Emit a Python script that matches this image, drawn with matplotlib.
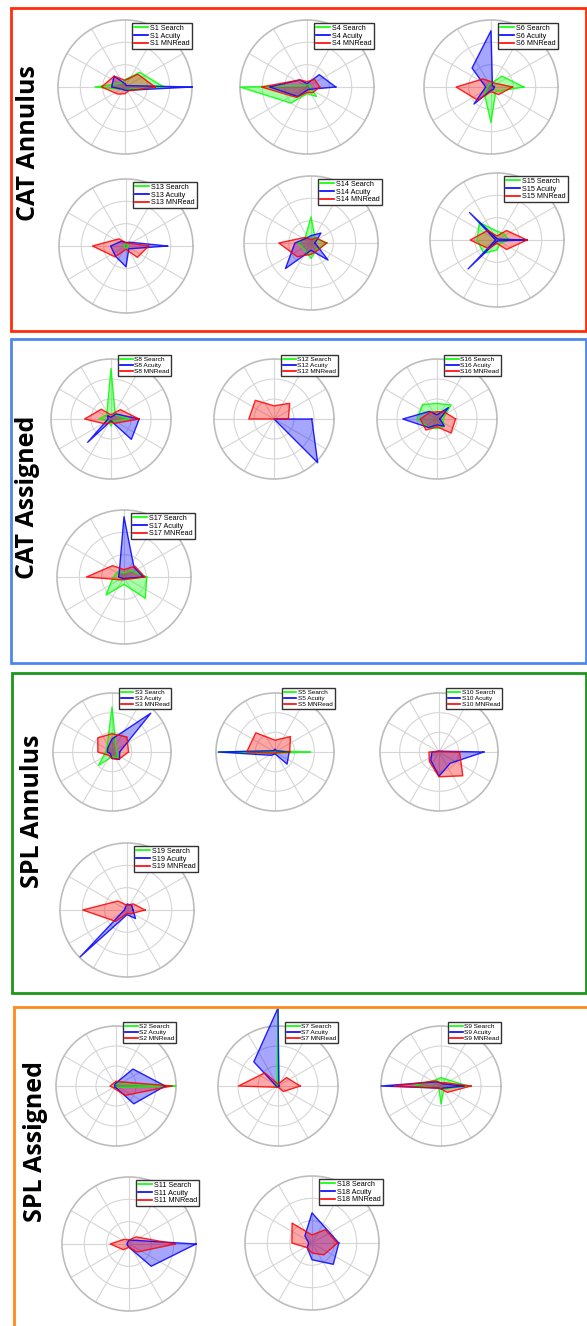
import numpy as np
import matplotlib.pyplot as plt
from matplotlib.lines import Line2D
from matplotlib.patches import Rectangle

# values per subject, 8 directions (0,45,...,315 deg), 1 = outer ring
search = {
    'S1': [0.58, 0.31, 0.11, 0.08, 0.45, 0.05, 0.05, 0.05],
    'S4': [0.05, 0.05, 0.05, 0.03, 1.0, 0.34, 0.1, 0.2],
    'S6': [0.49, 0.23, 0.05, 0.05, 0.05, 0.14, 0.53, 0.1],
    'S13': [0.03, 0.03, 0.03, 0.03, 0.03, 0.03, 0.03, 0.03],
    'S14': [0.24, 0.09, 0.39, 0.12, 0.19, 0.14, 0.23, 0.13],
    'S15': [0.18, 0.14, 0.13, 0.37, 0.3, 0.28, 0.15, 0.07],
    'S8': [0.29, 0.1, 0.84, 0.1, 0.2, 0.05, 0.12, 0.05],
    'S12': [0, 0, 0, 0, 0, 0, 0, 0],
    'S16': [0.1, 0.33, 0.26, 0.34, 0.33, 0.2, 0.16, 0.17],
    'S17': [0.34, 0.14, 0.06, 0.12, 0.16, 0.38, 0.11, 0.45],
    'S3': [0.08, 0.1, 0.76, 0.12, 0.11, 0.32, 0.08, 0.15],
    'S5': [0.6, 0.03, 0.03, 0.03, 0.96, 0.03, 0.03, 0.03],
    'S10': [0, 0, 0, 0, 0, 0, 0, 0],
    'S19': [0, 0, 0, 0, 0, 0, 0, 0],
    'S2': [0.99, 0.05, 0.03, 0.03, 0.03, 0.03, 0.03, 0.03],
    'S7': [0.02, 0.02, 1.3, 0.02, 0.07, 0.02, 0.02, 0.02],
    'S9': [0.45, 0.15, 0.14, 0.14, 0.45, 0.05, 0.3, 0.07],
    'S11': [0, 0, 0, 0, 0, 0, 0, 0],
    'S18': [0, 0, 0, 0, 0, 0, 0, 0],
}
acuity = {
    'S1': [1.0, 0.03, 0.05, 0.23, 0.2, 0.05, 0.05, 0.07],
    'S4': [0.43, 0.26, 0.05, 0.15, 0.56, 0.2, 0.05, 0.05],
    'S6': [0.05, 0.03, 0.84, 0.4, 0.08, 0.36, 0.05, 0.05],
    'S13': [0.62, 0.08, 0.05, 0.1, 0.23, 0.22, 0.31, 0.06],
    'S14': [0.06, 0.21, 0.11, 0.1, 0.24, 0.54, 0.11, 0.36],
    'S15': [0.45, 0.02, 0.02, 0.58, 0.02, 0.61, 0.02, 0.02],
    'S8': [0.47, 0.12, 0.03, 0.08, 0.05, 0.55, 0.03, 0.48],
    'S12': [0.63, 0, 0, 0, 0, 0, 0, 1.03],
    'S16': [0.05, 0.27, 0.07, 0.18, 0.57, 0.2, 0.1, 0.17],
    'S17': [0.29, 0.21, 0.9, 0.1, 0.08, 0.03, 0.03, 0.03],
    'S3': [0.13, 0.93, 0.22, 0.1, 0.08, 0.04, 0.11, 0.18],
    'S5': [0.24, 0.03, 0.05, 0.03, 0.96, 0.08, 0.03, 0.29],
    'S10': [0.76, 0.02, 0.02, 0.02, 0.12, 0.2, 0.41, 0.27],
    'S19': [0.09, 0.1, 0.09, 0.04, 0.04, 0.99, 0.07, 0.18],
    'S2': [0.82, 0.4, 0.05, 0.03, 0.02, 0.03, 0.03, 0.42],
    'S7': [0.02, 0.02, 1.3, 0.57, 0.03, 0.02, 0.02, 0.02],
    'S9': [0.38, 0.05, 0.05, 0.1, 1.0, 0.05, 0.05, 0.05],
    'S11': [1.0, 0.08, 0.06, 0.03, 0.03, 0.03, 0.05, 0.47],
    'S18': [0.4, 0.3, 0.45, 0.15, 0.05, 0.1, 0.25, 0.45],
}
mnread = {
    'S1': [0.45, 0.27, 0.1, 0.23, 0.35, 0.15, 0.1, 0.08],
    'S4': [0.19, 0.16, 0.08, 0.15, 0.68, 0.22, 0.08, 0.12],
    'S6': [0.32, 0.08, 0.08, 0.17, 0.52, 0.28, 0.07, 0.16],
    'S13': [0.34, 0.06, 0.05, 0.15, 0.5, 0.23, 0.05, 0.24],
    'S14': [0.23, 0.11, 0.05, 0.12, 0.48, 0.29, 0.17, 0.15],
    'S15': [0.45, 0.2, 0.06, 0.2, 0.4, 0.18, 0.05, 0.2],
    'S8': [0.47, 0.22, 0.07, 0.23, 0.44, 0.12, 0.05, 0.1],
    'S12': [0.24, 0.37, 0.22, 0.44, 0.42, 0, 0, 0],
    'S16': [0.31, 0.17, 0.12, 0.16, 0.28, 0.26, 0.13, 0.33],
    'S17': [0.31, 0.23, 0.11, 0.24, 0.56, 0.06, 0.04, 0.05],
    'S3': [0.28, 0.36, 0.31, 0.34, 0.24, 0.08, 0.11, 0.17],
    'S5': [0.25, 0.37, 0.2, 0.46, 0.48, 0.03, 0.02, 0.02],
    'S10': [0.35, 0.01, 0.01, 0.01, 0.17, 0.23, 0.42, 0.57],
    'S19': [0.27, 0.13, 0.07, 0.19, 0.66, 0.24, 0.05, 0.08],
    'S2': [0.93, 0.1, 0.08, 0.06, 0.1, 0.05, 0.06, 0.22],
    'S7': [0.37, 0.2, 0.03, 0.31, 0.66, 0.03, 0.02, 0.13],
    'S9': [0.5, 0.08, 0.05, 0.12, 0.79, 0.05, 0.05, 0.15],
    'S11': [0.69, 0.15, 0.06, 0.1, 0.28, 0.12, 0.05, 0.17],
    'S18': [0.38, 0.28, 0.12, 0.42, 0.3, 0.1, 0.15, 0.25],
}

group_names = ['CAT Annulus', 'CAT Assigned', 'SPL Annulus', 'SPL Assigned']
group_subjects = [['S1', 'S4', 'S6', 'S13', 'S14', 'S15'],
                  ['S8', 'S12', 'S16', 'S17'],
                  ['S3', 'S5', 'S10', 'S19'],
                  ['S2', 'S7', 'S9', 'S11', 'S18']]

# layout in pixels (center x, center y, radius)
W, H = 587, 1326
layout = {
    'S1': (125, 87, 67), 'S4': (307, 87, 67), 'S6': (491, 87, 67),
    'S13': (126, 246, 67), 'S14': (311, 243, 67), 'S15': (497, 240, 67),
    'S8': (111, 419, 60), 'S12': (274, 419, 60), 'S16': (437, 419, 60),
    'S17': (124, 577, 67),
    'S3': (112, 752, 59), 'S5': (275, 752, 59), 'S10': (439, 752, 59),
    'S19': (127, 910, 67),
    'S2': (116, 1086, 60), 'S7': (278, 1086, 60), 'S9': (441, 1086, 60),
    'S11': (129, 1244, 67), 'S18': (312, 1243, 67),
}
boxes = [(11, 8, 586, 331, '#ff2d0a'), (11, 339, 586, 663, '#4f86ec'),
         (12, 673, 586, 993, '#1c961c'), (14, 1007, 590, 1340, '#ff8a1e')]
label_pos = [(29, 143), (28, 497), (33, 811), (36, 1141)]

colors = {'Search': '#00ff00', 'Acuity': '#0000ff', 'MNRead': '#ff0000'}
theta = np.deg2rad(np.arange(0, 360, 45))

fig = plt.figure(figsize=(W / 100, H / 100), dpi=100)

for subjects in group_subjects:
    for name in subjects:
        cx, cy, r = layout[name]
        ax = fig.add_axes([(cx - r) / W, 1 - (cy + r) / H, 2 * r / W, 2 * r / H],
                          projection='polar')
        ax.set_axisbelow(True)
        ax.set_ylim(0, 1)
        ax.set_xticks(np.deg2rad(np.arange(0, 360, 30)))
        ax.set_xticklabels([])
        ax.set_yticks([1 / 3, 2 / 3])
        ax.set_yticklabels([])
        ax.grid(color='#d6d6d6', lw=0.8)
        ax.spines['polar'].set_color('#bdbdbd')
        ax.spines['polar'].set_linewidth(1.2)
        for meas, data in [('Search', search), ('Acuity', acuity), ('MNRead', mnread)]:
            v = np.array(data[name])
            th = np.append(theta, theta[0])
            rr = np.append(v, v[0])
            ax.fill(th, rr, color=colors[meas], alpha=0.35, lw=0, clip_on=False, zorder=3)
            ax.plot(th, rr, color=colors[meas], lw=1, alpha=0.85, clip_on=False, zorder=4)
        s = r / 67
        handles = [Line2D([], [], color=colors[m], lw=1.2) for m in colors]
        labels = [f'{name} {m}' for m in colors]
        fig.legend(handles, labels, loc='upper left',
                   bbox_to_anchor=((cx + 7) / W, 1 - (cy - 64) / H),
                   bbox_transform=fig.transFigure,
                   prop={'family': 'Liberation Sans', 'size': 5.2 * s},
                   frameon=True, fancybox=False, framealpha=1,
                   edgecolor='#333333', borderpad=0.25, labelspacing=0.1,
                   handlelength=2.0, handletextpad=0.3, borderaxespad=0)

for x0, y0, x1, y1, c in boxes:
    fig.add_artist(Rectangle((x0 / W, 1 - y1 / H), (x1 - x0) / W, (y1 - y0) / H,
                             transform=fig.transFigure, fill=False,
                             edgecolor=c, lw=2))

for (x, y), txt in zip(label_pos, group_names):
    fig.text(x / W, 1 - y / H, txt, rotation=90, ha='center', va='center',
             fontsize=18, fontweight='bold', family=['Open Sans', 'DejaVu Sans'])

fig.savefig('out.png', dpi=100)
